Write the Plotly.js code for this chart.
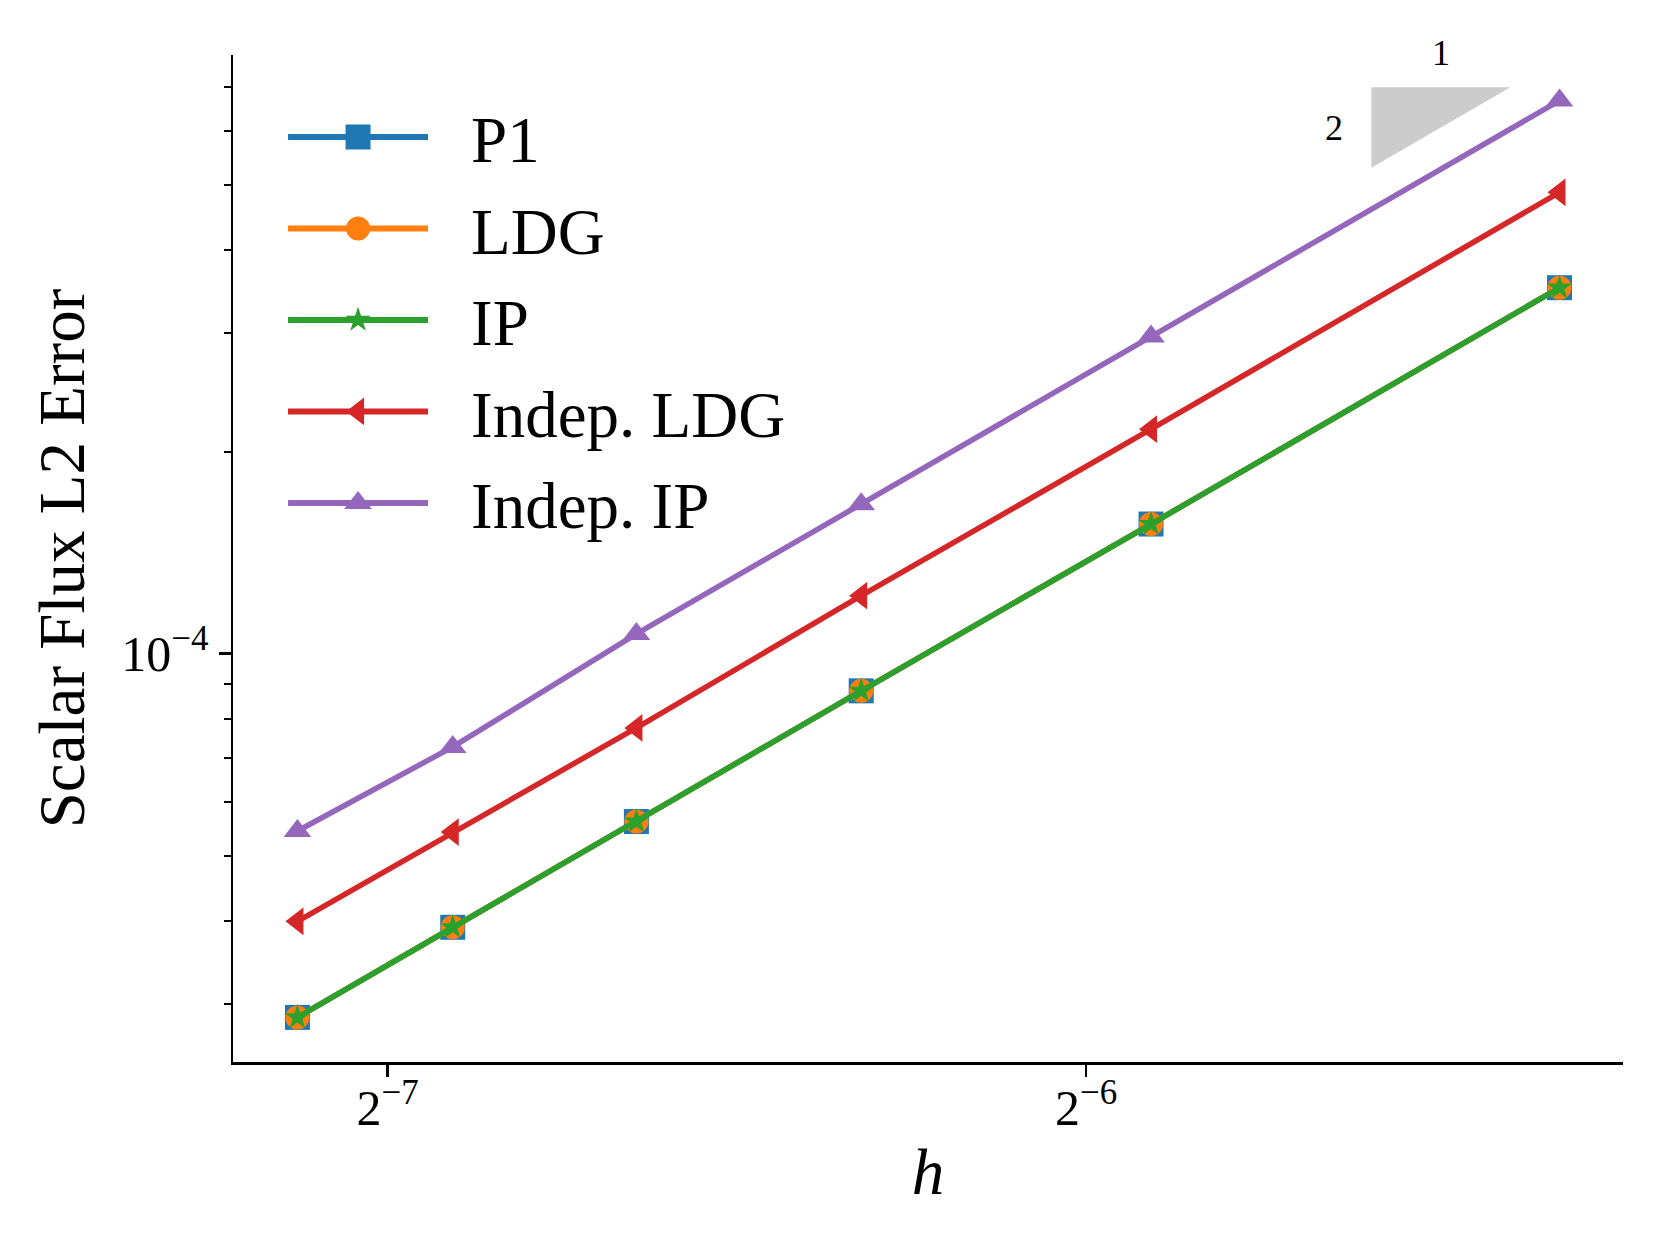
<!DOCTYPE html>
<html>
<head>
<meta charset="utf-8">
<script src="https://cdn.plot.ly/plotly-3.0.1.min.js"></script>
<style>
html,body{margin:0;padding:0;background:#ffffff;}
#chart{width:1660px;height:1245px;}
</style>
</head>
<body>
<div id="chart"></div>
<script>
// ---- data ----
const h = [1/140, 1/120, 1/100, 1/80, 1/60, 1/40];
const errP1        = [2.87e-5, 3.91e-5, 5.62e-5, 8.80e-5, 1.56e-4, 3.51e-4];
const errLDG       = [2.87e-5, 3.91e-5, 5.62e-5, 8.80e-5, 1.56e-4, 3.51e-4];
const errIP        = [2.87e-5, 3.91e-5, 5.62e-5, 8.80e-5, 1.56e-4, 3.51e-4];
const errIndepLDG  = [3.99e-5, 5.42e-5, 7.75e-5, 1.22e-4, 2.16e-4, 4.87e-4];
const errIndepIP   = [5.44e-5, 7.26e-5, 1.07e-4, 1.67e-4, 2.97e-4, 6.67e-4];
const seriesNames  = ['P1', 'LDG', 'IP', 'Indep. LDG', 'Indep. IP'];

const xTickVals = [Math.pow(2, -7), Math.pow(2, -6)];
const xTickText = ['2<sup>−7</sup>', '2<sup>−6</sup>'];
const yTickVals = [1e-4];
const yTickText = ['10<sup>−4</sup>'];

// slope-2 reference triangle
const slopeRun = [0.02074, 0.02381];
const slopeTop = 6.98e-4;
const slopeOrder = 2;
const slopeLabels = ['1', '2'];

// ---- styling ----
const FONT = 'Liberation Serif, "Times New Roman", serif';
const colors = ['#1f77b4', '#ff7f0e', '#2ca02c', '#d62728', '#9467bd'];
const symbols = ['square', 'circle', 'star', 'triangle-left', 'triangle-up'];
const msizes = [25, 24, 19, 24, 24];
const series = [errP1, errLDG, errIP, errIndepLDG, errIndepIP];

const traces = series.map((ys, i) => ({
  type: 'scatter',
  mode: 'lines+markers',
  name: seriesNames[i],
  legendgroup: 'g' + i,
  x: h,
  y: ys,
  line: {color: colors[i], width: 5.5},
  marker: {symbol: symbols[i], size: msizes[i], color: colors[i], line: {width: 0}},
  cliponaxis: false
}));

// slope triangle (filled)
const slopeBottom = slopeTop * Math.pow(slopeRun[0] / slopeRun[1], slopeOrder);
traces.unshift({
  type: 'scatter',
  mode: 'lines',
  x: [slopeRun[0], slopeRun[1], slopeRun[0], slopeRun[0]],
  y: [slopeTop, slopeTop, slopeBottom, slopeTop],
  fill: 'toself',
  fillcolor: '#cccccc',
  line: {color: '#cccccc', width: 0},
  showlegend: false,
  hoverinfo: 'skip'
});

// minor tick positions on the y log axis
const yMinor = [];
for (let d = -5; d <= -4; d++) {
  for (let k = 2; k <= 9; k++) yMinor.push(k * Math.pow(10, d));
}

const L2 = Math.log10;
const layout = {
  width: 1660,
  height: 1245,
  margin: {l: 233, r: 37, t: 55, b: 183, pad: 0},
  paper_bgcolor: '#ffffff',
  plot_bgcolor: '#ffffff',
  font: {family: FONT, color: '#000000'},
  showlegend: true,
  xaxis: {
    type: 'log',
    range: [-2.1739, -1.5747],
    tickmode: 'array',
    tickvals: xTickVals,
    ticktext: xTickText,
    ticks: 'outside',
    ticklen: 12,
    tickwidth: 2.5,
    tickcolor: '#000',
    ticklabelstandoff: -12,
    showline: true,
    linewidth: 2.5,
    linecolor: '#000',
    showgrid: false,
    zeroline: false,
    tickfont: {family: FONT, size: 50, color: '#000'},
    title: {text: '<i>h</i>', font: {family: FONT, size: 65, color: '#000'}, standoff: 14}
  },
  yaxis: {
    type: 'log',
    range: [-4.6086, -3.1079],
    tickmode: 'array',
    tickvals: yTickVals,
    ticktext: yTickText,
    ticks: 'outside',
    ticklen: 12,
    tickwidth: 2.5,
    tickcolor: '#000',
    minor: {tickmode: 'array', tickvals: yMinor, ticks: 'outside', ticklen: 7, tickwidth: 2, tickcolor: '#000', showgrid: false},
    showline: true,
    linewidth: 2.5,
    linecolor: '#000',
    showgrid: false,
    zeroline: false,
    tickfont: {family: FONT, size: 50, color: '#000'},
    title: {text: 'Scalar Flux L2 Error', font: {family: FONT, size: 65, color: '#000'}, standoff: 16}
  },
  legend: {
    x: 0.036,
    y: 0.967,
    xanchor: 'left',
    yanchor: 'top',
    bgcolor: 'rgba(0,0,0,0)',
    borderwidth: 0,
    font: {family: FONT, size: 65, color: '#000'},
    itemwidth: 140,
    tracegroupgap: 4,
    traceorder: 'grouped'
  },
  annotations: [
    {text: slopeLabels[0], x: L2(Math.sqrt(slopeRun[0] * slopeRun[1])), y: 1.002, xref: 'x', yref: 'paper',
     yanchor: 'middle', showarrow: false, font: {family: FONT, size: 36, color: '#000'}},
    {text: slopeLabels[1], x: L2(0.01999), y: L2(Math.sqrt(slopeTop * slopeBottom)), xref: 'x', yref: 'y',
     showarrow: false, font: {family: FONT, size: 36, color: '#000'}}
  ]
};

Plotly.newPlot('chart', traces, layout, {displayModeBar: false, staticPlot: true}).then(gd => {
  // let the legend draw freely (no clipping), enlarge its symbols, widen text gap
  gd.querySelectorAll('.legend [clip-path]').forEach(e => e.removeAttribute('clip-path'));
  gd.querySelectorAll('.legend .traces').forEach(g => {
    const d = g.__data__;
    if (!d || !d[0] || !d[0].trace) return;
    const tr = d[0].trace;
    const s = tr.marker ? tr.marker.size : 16;
    const k = s / Math.min(s, 16);
    g.querySelectorAll('.legendpoints path').forEach(p => {
      const t = p.getAttribute('transform') || '';
      p.setAttribute('transform', t + ' scale(' + k.toFixed(3) + ')');
    });
    g.querySelectorAll('.legendlines path').forEach(p => {
      p.style.strokeWidth = '6px';
    });
    const txt = g.querySelector('text.legendtext');
    if (txt) {
      const x0 = parseFloat(txt.getAttribute('x')) || 0;
      txt.setAttribute('x', x0 + 38);
    }
  });
});
</script>
</body>
</html>
